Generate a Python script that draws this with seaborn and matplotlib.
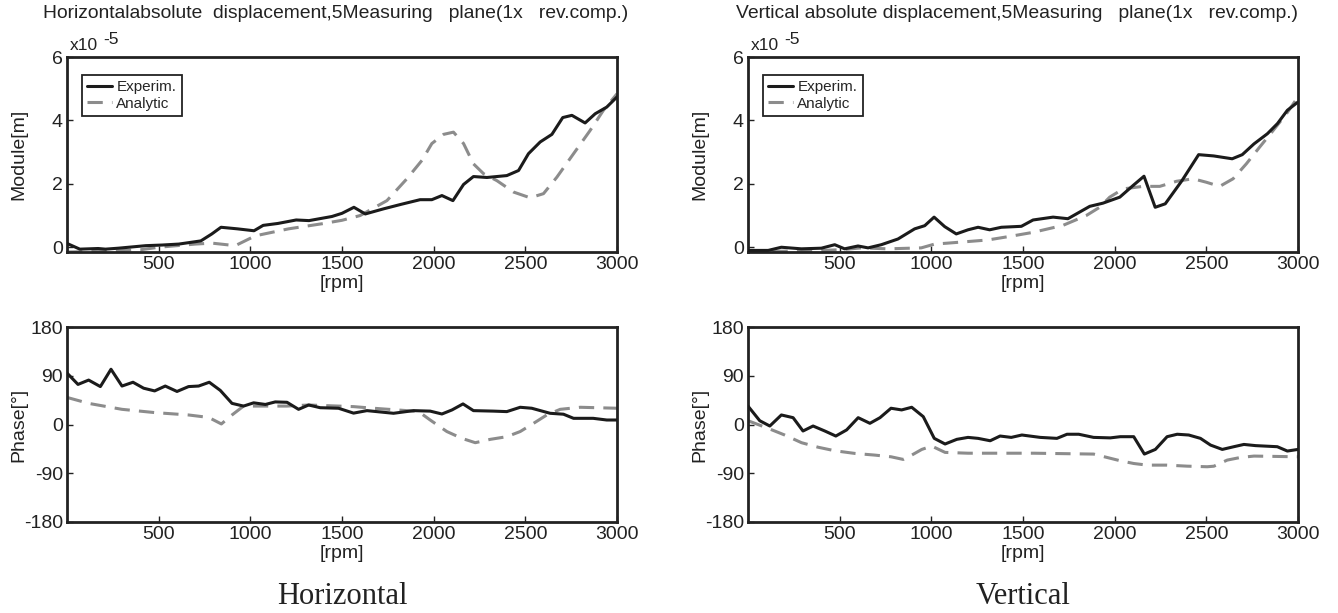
import matplotlib
matplotlib.use("Agg")
import matplotlib.pyplot as plt
import numpy as np
import pandas as pd
import seaborn as sns

sns.set_theme(style="white")
plt.rcParams['font.family'] = ['Liberation Sans', 'DejaVu Sans']
plt.rcParams['axes.unicode_minus'] = False

# ---------------- data (module in units of 1e-5 m, phase in degrees) ----------------
h_mod_exp_rpm = [0, 70, 170, 210, 280, 430, 520, 610, 730, 790, 840, 930, 1020, 1070, 1150, 1250, 1320,
                 1445, 1500, 1565, 1627, 1726, 1820, 1926, 1990, 2045, 2105, 2163, 2217, 2290, 2399, 2463,
                 2517, 2581, 2645, 2704, 2754, 2826, 2881, 2944, 3000]
h_mod_exp = [0.12, -0.06, -0.04, -0.06, -0.03, 0.05, 0.07, 0.1, 0.2, 0.42, 0.63, 0.58, 0.52, 0.69, 0.75,
             0.86, 0.84, 0.97, 1.07, 1.26, 1.05, 1.21, 1.35, 1.5, 1.5, 1.63, 1.47, 1.98, 2.23, 2.2, 2.26,
             2.42, 2.95, 3.32, 3.56, 4.09, 4.16, 3.92, 4.21, 4.42, 4.74]
h_mod_ana_rpm = [0, 200, 400, 500, 600, 700, 790, 918, 1027, 1208, 1390, 1500, 1599, 1745, 1854, 1936, 1990,
                 2054, 2108, 2163, 2217, 2272, 2345, 2436, 2526, 2599, 2672, 2763, 2853, 2926, 3000]
h_mod_ana = [-0.15, -0.13, -0.08, 0.0, 0.05, 0.1, 0.13, 0.05, 0.36, 0.58, 0.74, 0.85, 1.0, 1.47, 2.16, 2.74,
             3.27, 3.56, 3.63, 3.27, 2.63, 2.32, 2.1, 1.74, 1.56, 1.69, 2.21, 2.95, 3.68, 4.32, 4.84]

v_mod_exp_rpm = [0, 110, 182, 291, 400, 473, 527, 600, 655, 727, 818, 909, 964, 1015, 1073, 1136, 1200, 1255,
                 1318, 1382, 1491, 1555, 1664, 1745, 1864, 1936, 2028, 2101, 2160, 2221, 2276, 2367, 2458,
                 2540, 2641, 2696, 2760, 2833, 2888, 2942, 3000]
v_mod_exp = [-0.1, -0.1, 0.0, -0.05, -0.03, 0.08, -0.05, 0.04, -0.02, 0.08, 0.26, 0.58, 0.68, 0.95, 0.65,
             0.42, 0.55, 0.63, 0.55, 0.63, 0.66, 0.86, 0.95, 0.9, 1.29, 1.39, 1.58, 1.95, 2.24, 1.26, 1.37,
             2.1, 2.92, 2.88, 2.79, 2.92, 3.26, 3.58, 3.9, 4.32, 4.58]
v_mod_ana_rpm = [0, 300, 500, 618, 764, 945, 1018, 1090, 1200, 1309, 1436, 1555, 1718, 1845, 1918, 1973, 2046,
                 2155, 2246, 2337, 2428, 2500, 2573, 2646, 2718, 2791, 2864, 2937, 3000]
v_mod_ana = [-0.13, -0.12, -0.08, -0.02, -0.05, -0.02, 0.1, 0.13, 0.18, 0.23, 0.35, 0.47, 0.69, 1.0, 1.26,
             1.58, 1.84, 1.92, 1.92, 2.08, 2.16, 2.05, 1.92, 2.16, 2.63, 3.16, 3.68, 4.21, 4.74]

h_ph_exp_rpm = [0, 60, 118, 182, 240, 300, 360, 418, 478, 536, 600, 663, 718, 776, 836, 900, 963, 1018, 1082,
                1136, 1200, 1263, 1318, 1381, 1481, 1563, 1636, 1781, 1890, 1981, 2045, 2100, 2160, 2217,
                2326, 2399, 2472, 2535, 2635, 2708, 2763, 2870, 2944, 3000]
h_ph_exp = [95, 74, 82, 70, 102, 71, 78, 67, 62, 71, 61, 70, 71, 78, 63, 39, 34, 40, 37, 41.7, 41, 28, 36,
            31, 30, 21, 25.6, 20.7, 25.6, 24.7, 19.4, 26.9, 38, 25.6, 24.7, 23.8, 31.8, 30, 20.7, 19, 11.4,
            11.4, 8.3, 8.3]
h_ph_ana_rpm = [0, 118, 300, 478, 663, 773, 842, 900, 963, 1060, 1200, 1318, 1563, 1672, 1854, 1918, 1981,
                2072, 2154, 2227, 2309, 2399, 2472, 2545, 2617, 2690, 2800, 3000]
h_ph_ana = [50, 39, 28, 22, 17.6, 13, 1, 17.6, 34, 34, 34, 36, 33, 30, 25.6, 23.8, 8.3, -13, -25.6, -33.6,
            -27.4, -22.5, -13, 2.2, 17.6, 28, 31.8, 30]

v_ph_exp_rpm = [0, 64, 119, 182, 246, 300, 355, 419, 479, 538, 601, 665, 720, 780, 838, 893, 956, 1016, 1075,
                1139, 1200, 1255, 1321, 1375, 1436, 1494, 1594, 1685, 1740, 1804, 1885, 1976, 2031, 2104,
                2162, 2222, 2286, 2341, 2404, 2468, 2523, 2587, 2650, 2705, 2769, 2887, 2942, 3000]
v_ph_exp = [34, 7, -2.8, 17.6, 12.6, -12, -2.8, -12, -21.3, -10, 12.6, 2.2, 12.6, 30, 26.9, 31.8, 14.5,
            -25.6, -36, -27.4, -23.8, -25.6, -30, -21.3, -23.8, -19.4, -23.8, -25.6, -18, -18, -23.8,
            -24.7, -22.5, -22.5, -54.6, -46, -22.5, -18, -19.4, -25.6, -38, -46, -41, -36.8, -39, -41,
            -49, -46]
v_ph_ana_rpm = [0, 109, 200, 292, 383, 474, 583, 692, 780, 847, 893, 948, 1002, 1075, 1200, 1558, 1885, 1958,
                2031, 2104, 2177, 2286, 2395, 2505, 2541, 2614, 2687, 2760, 3000]
v_ph_ana = [7, -7, -19.4, -33.6, -42, -48.5, -53.4, -56.5, -59.6, -64.5, -56.5, -46, -39.8, -51.5, -53, -53,
            -54.6, -60.8, -67, -72, -75, -75, -76.9, -78, -77, -65.7, -60.8, -58.3, -59.6]

x_ticks = [500, 1000, 1500, 2000, 2500, 3000]
mod_ticks = [0, 2, 4, 6]
ph_ticks = [-180, -90, 0, 90, 180]
titles = ["Horizontalabsolute  displacement,5Measuring   plane(1x   rev.comp.)",
          "Vertical absolute displacement,5Measuring   plane(1x   rev.comp.)"]
captions = ["Horizontal", "Vertical"]

# ---------------- figure ----------------
W, H = 1338, 613
fig = plt.figure(figsize=(W / 100, H / 100), dpi=100, facecolor="white")


def ax_px(l, t, r, b):
    return fig.add_axes([l / W, 1 - b / H, (r - l) / W, (b - t) / H])


EXP_C = "#1b1b1b"
ANA_C = "#8c8c8c"
LW = 2.2


def style(ax, ylim, yticks, ylabel):
    ax.set_xlim(0, 3000)
    ax.set_ylim(*ylim)
    ax.set_xticks(x_ticks)
    ax.set_yticks(yticks)
    ax.set_xlabel("[rpm]", fontsize=14, labelpad=1, color="#222")
    ax.set_ylabel(ylabel, fontsize=14, color="#222")
    ax.yaxis.set_label_coords(-0.072, 0.5)
    ax.tick_params(axis="both", which="both", direction="in", length=4, width=1,
                   labelsize=14, colors="#222", pad=3, bottom=True, left=True)
    for s in ax.spines.values():
        s.set_linewidth(2.0)
        s.set_color("#222")
    ax.grid(False)


def draw(ax, xe, ye, xa, ya):
    df_e = pd.DataFrame({"rpm": xe, "val": ye})
    df_a = pd.DataFrame({"rpm": xa, "val": ya})
    sns.lineplot(data=df_e, x="rpm", y="val", ax=ax, color=EXP_C, lw=LW, label="Experim.", zorder=3)
    sns.lineplot(data=df_a, x="rpm", y="val", ax=ax, color=ANA_C, lw=LW, label="Analytic",
                 dashes=False, zorder=2)
    ax.lines[-1].set_dashes([5, 3])


panels = [
    (67, 617, h_mod_exp_rpm, h_mod_exp, h_mod_ana_rpm, h_mod_ana,
     h_ph_exp_rpm, h_ph_exp, h_ph_ana_rpm, h_ph_ana),
    (748, 1298, v_mod_exp_rpm, v_mod_exp, v_mod_ana_rpm, v_mod_ana,
     v_ph_exp_rpm, v_ph_exp, v_ph_ana_rpm, v_ph_ana),
]

for i, (l, r, xe, ye, xa, ya, pxe, pye, pxa, pya) in enumerate(panels):
    ax1 = ax_px(l, 57, r, 252)
    draw(ax1, xe, ye, xa, ya)
    style(ax1, (-0.15, 6), mod_ticks, "Module[m]")
    leg = ax1.legend(loc="upper left", bbox_to_anchor=(15 / 550, 1 - 18 / 195), borderaxespad=0,
                     fontsize=11, handlelength=1.6, handletextpad=0.3, labelspacing=0.15,
                     borderpad=0.35, fancybox=False, framealpha=1, edgecolor="#222")
    leg.get_frame().set_linewidth(1.3)

    ax2 = ax_px(l, 327, r, 522)
    draw(ax2, pxe, pye, pxa, pya)
    style(ax2, (-180, 180), ph_ticks, "Phase[°]")
    ax2.get_legend().remove()

    cx = (l + r) / 2
    fig.text((cx - 6) / W, 1 - 13 / H, titles[i], fontsize=13.9, ha="center", va="center", color="#222")
    fig.text((l + 3) / W, 1 - 46 / H, "x10", fontsize=12.5, ha="left", va="center", color="#222")
    fig.text((l + 36) / W, 1 - 39 / H, "-5", fontsize=12.5, ha="left", va="center", color="#222")
    fig.text(cx / W, 1 - 596 / H, captions[i], fontsize=22, ha="center", va="center",
             family=["Liberation Serif", "DejaVu Serif"], color="#222")

fig.savefig("out.png", dpi=100, facecolor="white")
